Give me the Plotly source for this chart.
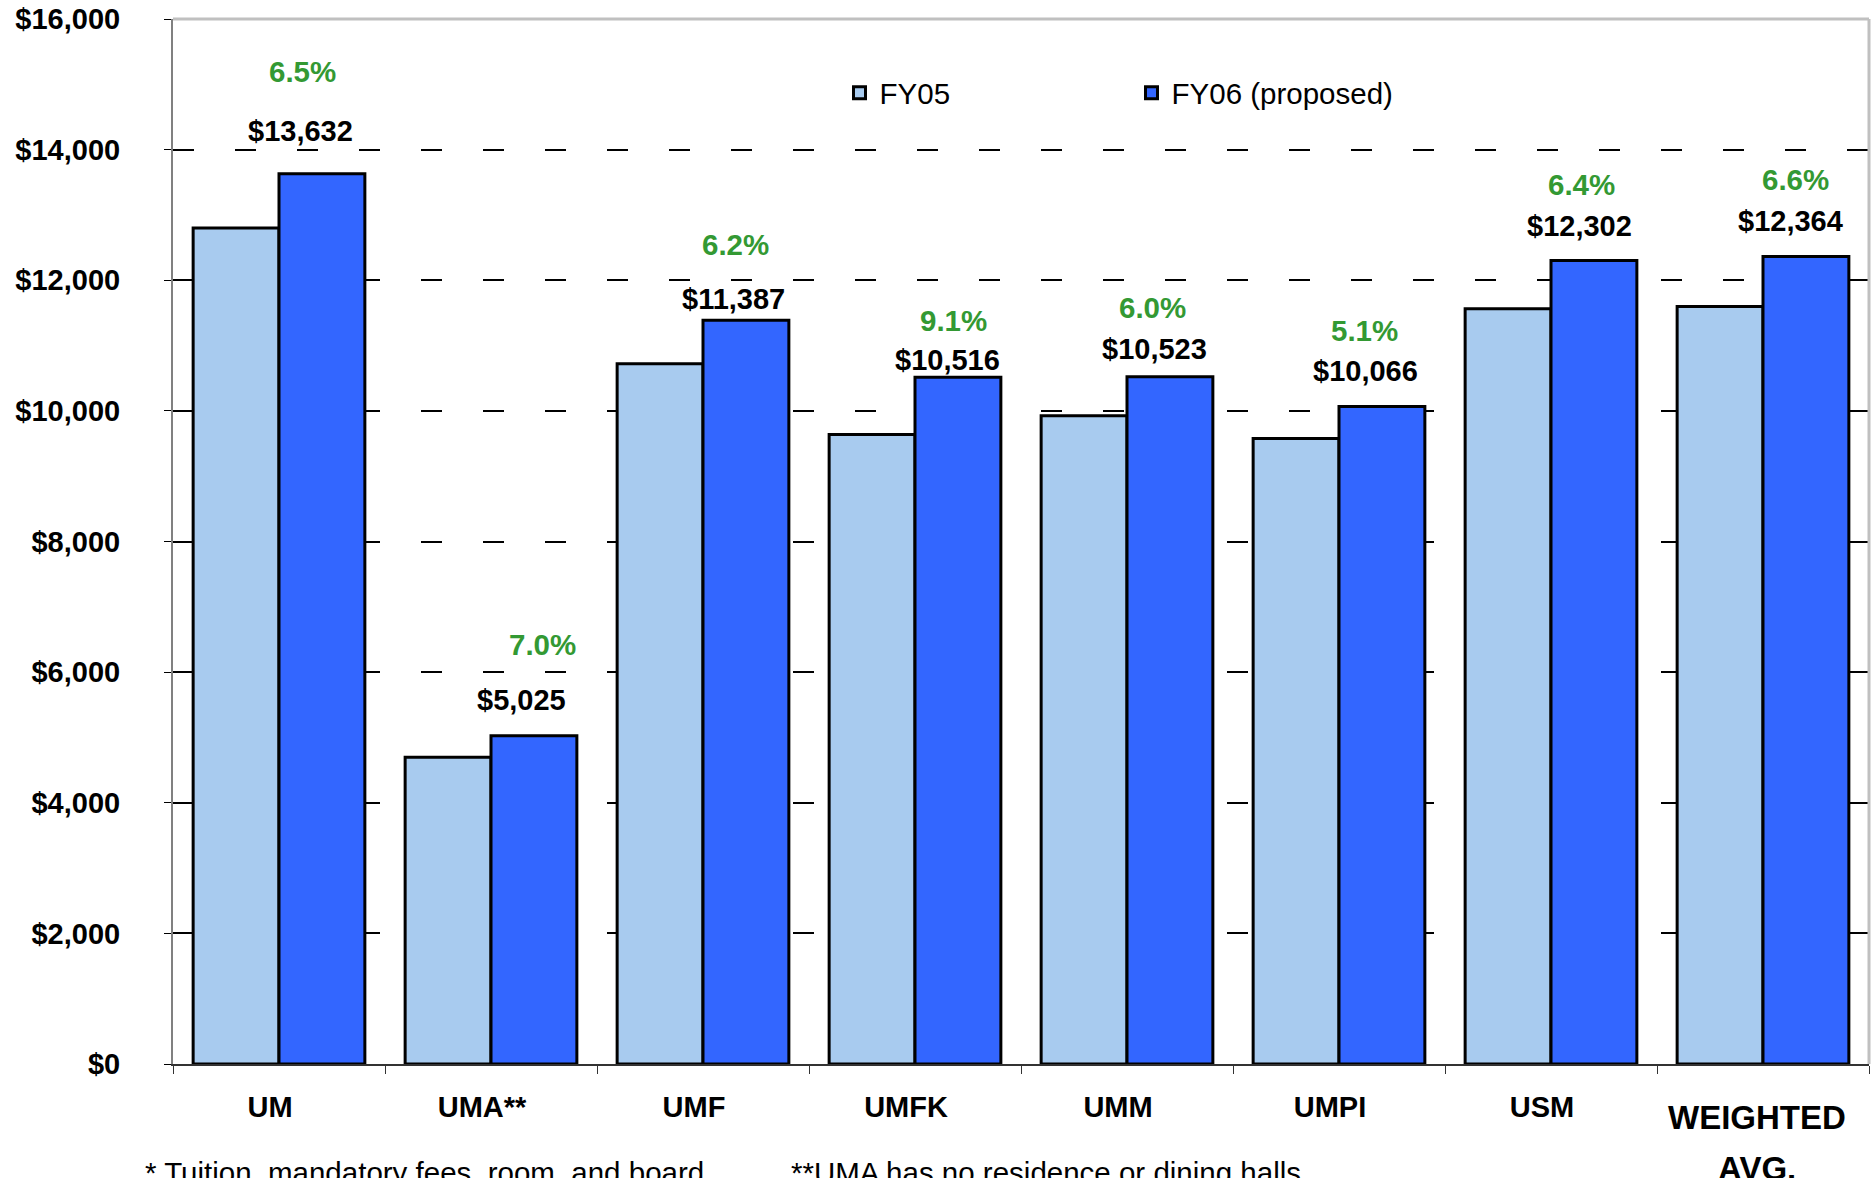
import plotly.graph_objects as go

# Campus cost comparison (tuition, mandatory fees, room and board)
campuses = ["UM", "UMA**", "UMF", "UMFK", "UMM", "UMPI", "USM", "WEIGHTED AVG."]
fy05 = [12800, 4696, 10722, 9639, 9927, 9577, 11562, 11599]
fy06 = [13632, 5025, 11387, 10516, 10523, 10066, 12302, 12364]
pct_change = ["6.5%", "7.0%", "6.2%", "9.1%", "6.0%", "5.1%", "6.4%", "6.6%"]

y_ticks = [0, 2000, 4000, 6000, 8000, 10000, 12000, 14000, 16000]
y_tick_labels = ["$0", "$2,000", "$4,000", "$6,000", "$8,000",
                 "$10,000", "$12,000", "$14,000", "$16,000"]

# Hand-placed label offsets (pixels) relative to the top of each FY06 bar's category
value_dx = [21, 30, 30, 32, 27, 26, 28, 27]
value_dy = [43, 36, 21, 17, 28, 36, 35, 35]
pct_dx = [23, 51, 32, 38, 25, 25, 30, 32]
pct_dy = [102, 91, 76, 57, 69, 76, 76, 77]

FONT = "'Liberation Sans', Arial, sans-serif"
W, H = 1875, 1178
M_L, M_R, M_T, M_B = 173, 6, 19, 114
PLOT_W = W - M_L - M_R
PLOT_H = H - M_T - M_B
AXIS_Y = H - M_B  # pixel row of the category axis


def px_to_paper_x(px):
    return (px - M_L) / PLOT_W


def px_to_paper_y(py):
    return (AXIS_Y - py) / PLOT_H


fig = go.Figure()
fig.add_trace(go.Bar(
    x=campuses, y=fy05, name="FY05",
    marker=dict(color="#A8CBEF", line=dict(color="black", width=3)),
))
fig.add_trace(go.Bar(
    x=campuses, y=fy06, name="FY06 (proposed)",
    marker=dict(color="#3366FF", line=dict(color="black", width=3)),
))

# The last category gets its two-line label drawn separately below
tick_text = campuses[:-1] + [""]

bold = dict(family=FONT, size=29, color="black", weight="bold")

annotations = []
for i, c in enumerate(campuses):
    annotations.append(dict(
        x=c, y=fy06[i], xref="x", yref="y", text=f"${fy06[i]:,}",
        showarrow=False, xshift=value_dx[i], yshift=value_dy[i],
        xanchor="center", yanchor="middle", font=bold,
    ))
    annotations.append(dict(
        x=c, y=fy06[i], xref="x", yref="y", text=pct_change[i],
        showarrow=False, xshift=pct_dx[i], yshift=pct_dy[i],
        xanchor="center", yanchor="middle",
        font=dict(family=FONT, size=29.5, color="#339933", weight="bold"),
    ))

big_bold = dict(family=FONT, size=33, color="black", weight="bold")
annotations.append(dict(
    x=campuses[-1], y=0, xref="x", yref="y", text="WEIGHTED",
    showarrow=False, xshift=-6, yshift=-53, xanchor="center", yanchor="middle",
    font=big_bold,
))
annotations.append(dict(
    x=campuses[-1], y=0, xref="x", yref="y", text="AVG.",
    showarrow=False, xshift=-6, yshift=-104, xanchor="center", yanchor="middle",
    font=big_bold,
))

# footnotes
note_font = dict(family=FONT, size=29.5, color="black")
annotations.append(dict(
    x=px_to_paper_x(143), y=px_to_paper_y(1172),
    xref="paper", yref="paper", text="* Tuition, mandatory fees, room, and board",
    showarrow=False, xanchor="left", yanchor="middle", font=note_font,
))
annotations.append(dict(
    x=px_to_paper_x(789), y=px_to_paper_y(1172),
    xref="paper", yref="paper", text="**UMA has no residence or dining halls",
    showarrow=False, xanchor="left", yanchor="middle", font=note_font,
))

shapes = [
    # light grey frame on the top and right of the plot area
    dict(type="line", xref="paper", yref="paper", x0=0, x1=1, y0=1, y1=1,
         line=dict(color="#C0C0C0", width=3)),
    dict(type="line", xref="paper", yref="paper", x0=1, x1=1, y0=0, y1=1,
         line=dict(color="#C0C0C0", width=3)),
]

fig.update_layout(
    width=W, height=H,
    margin=dict(l=M_L, r=M_R, t=M_T, b=M_B, autoexpand=False),
    paper_bgcolor="white", plot_bgcolor="white",
    barmode="group", bargap=0.19, bargroupgap=0,
    font=dict(family=FONT, size=28, color="black"),
    showlegend=True,
    legend=dict(
        orientation="h", x=0.393, y=px_to_paper_y(93),
        xanchor="left", yanchor="middle",
        bgcolor="rgba(0,0,0,0)", borderwidth=0,
        entrywidth=247, entrywidthmode="pixels",
        font=dict(family=FONT, size=29.5, color="black"),
    ),
    annotations=annotations,
    shapes=shapes,
)

fig.update_xaxes(
    type="category", tickvals=campuses, ticktext=tick_text, automargin=False,
    showline=True, linecolor="#333333", linewidth=2,
    ticks="outside", tickson="boundaries", ticklen=8, tickcolor="#333333", tickwidth=1,
    showgrid=False, ticklabelstandoff=16, ticklabelshift=-9,
    tickfont=bold,
)

fig.update_yaxes(
    range=[0, 16000], tickvals=y_ticks, ticktext=y_tick_labels, automargin=False,
    showline=True, linecolor="#808080", linewidth=2,
    ticks="outside", ticklen=7, tickcolor="black", tickwidth=1,
    showgrid=True, gridcolor="black", gridwidth=1.5, griddash="21px,41px",
    zeroline=False, ticklabelstandoff=38,
    tickfont=bold,
)

fig.write_html("out.html")
